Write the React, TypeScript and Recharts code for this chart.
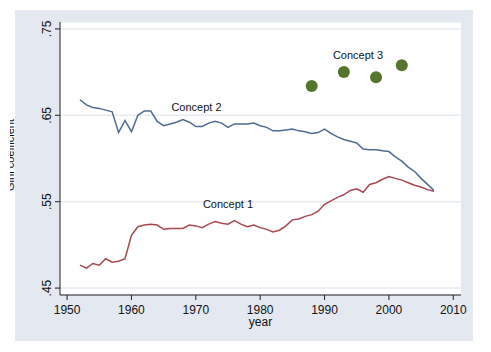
import { ComposedChart, Line, Scatter, XAxis, YAxis, CartesianGrid, ReferenceDot } from "recharts";

const years = [
  1952, 1953, 1954, 1955, 1956, 1957, 1958, 1959, 1960, 1961, 1962, 1963, 1964, 1965,
  1966, 1967, 1968, 1969, 1970, 1971, 1972, 1973, 1974, 1975, 1976, 1977, 1978, 1979,
  1980, 1981, 1982, 1983, 1984, 1985, 1986, 1987, 1988, 1989, 1990, 1991, 1992, 1993,
  1994, 1995, 1996, 1997, 1998, 1999, 2000, 2001, 2002, 2003, 2004, 2005, 2006, 2007,
];

const concept1 = [
  0.4765, 0.473, 0.4785, 0.4765, 0.484, 0.48, 0.481, 0.484, 0.511, 0.521, 0.523, 0.524, 0.523, 0.518,
  0.519, 0.519, 0.519, 0.523, 0.522, 0.52, 0.524, 0.527, 0.525, 0.524, 0.528, 0.524, 0.521, 0.523,
  0.52, 0.518, 0.515, 0.517, 0.522, 0.529, 0.53, 0.533, 0.535, 0.539, 0.547, 0.551, 0.555, 0.558,
  0.563, 0.565, 0.561, 0.57, 0.572, 0.576, 0.579, 0.577, 0.575, 0.572, 0.569, 0.567, 0.564, 0.562,
];

const concept2 = [
  0.668, 0.662, 0.659, 0.658, 0.656, 0.654, 0.63, 0.644, 0.631, 0.65, 0.655, 0.655, 0.643, 0.638,
  0.64, 0.642, 0.645, 0.642, 0.637, 0.637, 0.641, 0.643, 0.641, 0.636, 0.64, 0.64, 0.64, 0.641,
  0.638, 0.636, 0.632, 0.632, 0.633, 0.634, 0.632, 0.631, 0.629, 0.63, 0.634, 0.629, 0.625, 0.622,
  0.62, 0.618, 0.611, 0.61, 0.61, 0.609, 0.608, 0.602, 0.597, 0.59, 0.585, 0.577, 0.57, 0.563,
];

const concept3Years = [1988, 1993, 1998, 2002];
const concept3 = [0.684, 0.7, 0.694, 0.708];

const xTicks = [1950, 1960, 1970, 1980, 1990, 2000, 2010];
const yTicks = [0.45, 0.55, 0.65, 0.75];

const FONT = "'Liberation Sans', Arial, Helvetica, sans-serif";
const NAVY = "#4f6a93";
const MAROON = "#a8474f";
const GREEN = "#55752f";

const line1 = years.map((year, i) => ({ year, v: concept1[i] }));
const line2 = years.map((year, i) => ({ year, v: concept2[i] }));
const dots3 = concept3Years.map((year, i) => ({ year, v: concept3[i] }));

const fmtY = (v: number) => v.toFixed(2).replace(/^0/, "");

function YTick(props: any) {
  const { x, y, payload } = props;
  const bx = x + 2;
  return (
    <text
      x={bx}
      y={y}
      transform={`rotate(-90, ${bx}, ${y})`}
      textAnchor="middle"
      fontSize={12}
      fill="#111"
      fontFamily={FONT}
    >
      {fmtY(payload.value)}
    </text>
  );
}

function XLabel(props: any) {
  const vb = props.viewBox;
  return (
    <text x={vb.x + vb.width / 2} y={vb.y + 31} textAnchor="middle" fontSize={12} fill="#111" fontFamily={FONT}>
      year
    </text>
  );
}

const seriesLabel = (value: string) => ({
  value,
  position: "center" as const,
  fontSize: 11,
  fill: "#111",
  fontFamily: FONT,
});

export default function App() {
  return (
    <div style={{ position: "relative", width: 491, height: 352, margin: -8, background: "#fff", fontFamily: FONT }}>
      <div style={{ position: "absolute", left: 15, top: 10, width: 458, height: 331, background: "#e4e8f0" }} />
      <svg style={{ position: "absolute", left: 10, top: 0 }} width={10} height={352}>
        <text x={4} y={155} transform="rotate(-90, 4, 155)" textAnchor="middle" fontSize={11} fill="#111" fontFamily={FONT}>
          Gini coefficient
        </text>
      </svg>
      <div style={{ position: "absolute", left: 0, top: 0 }}>
        <ComposedChart width={491} height={352} margin={{ top: 22, right: 30, left: 0, bottom: 0 }}>
          <CartesianGrid horizontal vertical={false} fill="#ffffff" stroke="#e6ebf2" strokeWidth={1.5} />
          <XAxis
            dataKey="year"
            type="number"
            domain={[1948.9, 2011.2]}
            ticks={xTicks}
            allowDataOverflow
            height={57}
            tickSize={5}
            tickMargin={5}
            stroke="#222"
            tick={{ fontSize: 12, fill: "#111", fontFamily: FONT }}
            label={{ content: XLabel }}
          />
          <YAxis
            type="number"
            domain={[0.442, 0.758]}
            ticks={yTicks}
            allowDataOverflow
            width={60}
            tickSize={5}
            tickMargin={6}
            stroke="#222"
            tick={YTick}
          />
          <Line data={line1} dataKey="v" stroke={MAROON} strokeWidth={1.5} dot={false} isAnimationActive={false} />
          <Line data={line2} dataKey="v" stroke={NAVY} strokeWidth={1.5} dot={false} isAnimationActive={false} />
          <Scatter
            data={dots3}
            dataKey="v"
            isAnimationActive={false}
            shape={(p: any) => <circle cx={p.cx} cy={p.cy} r={6} fill={GREEN} />}
          />
          <ReferenceDot x={1970.1} y={0.6596} r={0} stroke="none" label={seriesLabel("Concept 2")} />
          <ReferenceDot x={1975} y={0.5472} r={0} stroke="none" label={seriesLabel("Concept 1")} />
          <ReferenceDot x={1995.2} y={0.72} r={0} stroke="none" label={seriesLabel("Concept 3")} />
        </ComposedChart>
      </div>
    </div>
  );
}
